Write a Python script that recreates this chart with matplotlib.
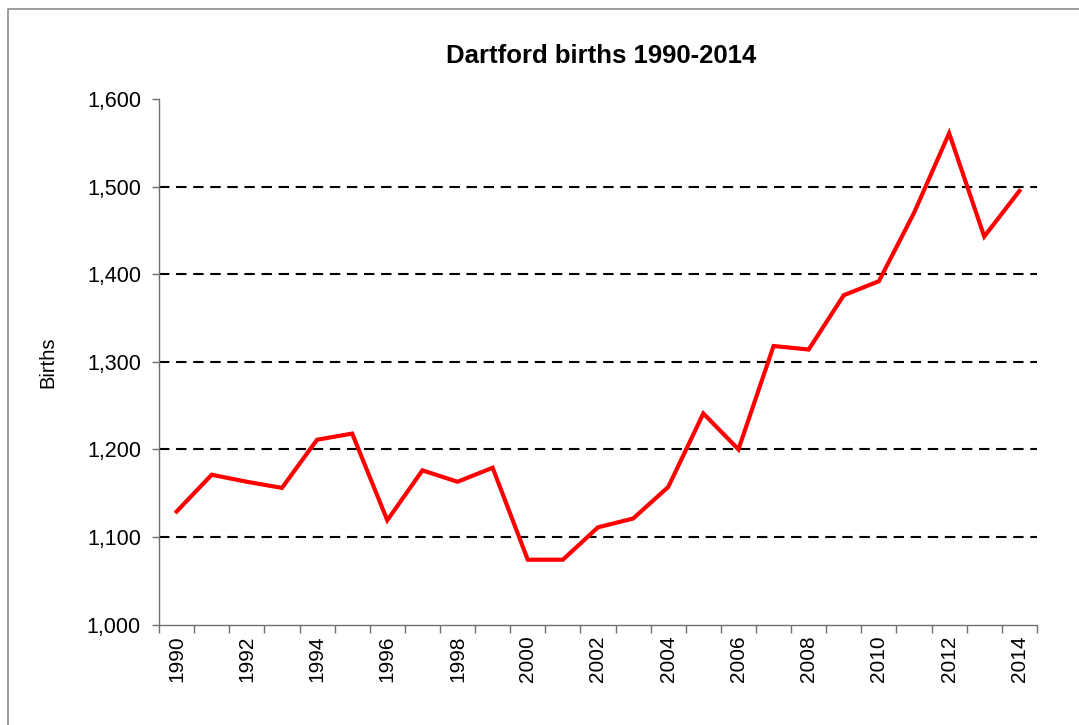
import matplotlib
matplotlib.use('Agg')
import matplotlib.pyplot as plt
from matplotlib.lines import Line2D

plt.rcParams['font.family'] = ['Liberation Sans', 'DejaVu Sans']

## data
years = list(range(1990, 2015))
births = [1129, 1171, 1163, 1156, 1211, 1218, 1119, 1176, 1163, 1179,
          1074, 1074, 1111, 1121, 1157, 1241, 1200, 1318, 1314, 1376,
          1392, 1470, 1561, 1443, 1495]
y_ticks = [1000, 1100, 1200, 1300, 1400, 1500, 1600]
title = 'Dartford births 1990-2014'
ylabel = 'Births'

fig = plt.figure(figsize=(10.79, 7.25), dpi=100)
ax = fig.add_axes([0.1474, 0.1386, 0.961 - 0.1474, 0.8634 - 0.1386])

# outer chart frame (only top and left edges fall inside the picture)
fx, fy = 7.7 / 1079, 1 - 9 / 725
fig.lines.append(Line2D([fx, fx, 1.0], [0.0, fy, fy], transform=fig.transFigure,
                        color='#8c8c8c', linewidth=1.2))

x = list(range(len(years)))
ax.plot(x, births, color='#ff0000', linewidth=3, solid_joinstyle='miter', zorder=3)

# dashed gridlines
for v in y_ticks[1:-1]:
    ax.axhline(v, color='black', linewidth=1.5, linestyle=(0, (5, 3.2)), zorder=1)

ax.set_xlim(-0.5, len(years) - 0.5)
ax.set_ylim(1000, 1600)
ax.set_yticks(y_ticks)
ax.set_yticklabels(['{:,}'.format(v) for v in y_ticks], fontsize=15.5)

# category boundaries as tick marks, labels on every other category
ax.set_xticks([i - 0.5 for i in range(len(years) + 1)])
ax.set_xticklabels([])
ax.set_xticks([i for i in x if years[i] % 2 == 0], minor=True)
ax.set_xticklabels([str(years[i]) for i in x if years[i] % 2 == 0], minor=True,
                   rotation=90, fontsize=15)
ax.tick_params(axis='x', which='major', length=6, width=1, color='#707070', direction='out')
ax.tick_params(axis='x', which='minor', length=0, pad=8)
ax.tick_params(axis='y', length=5, width=1, color='#707070', pad=8)

for s in ['top', 'right']:
    ax.spines[s].set_visible(False)
for s in ['left', 'bottom']:
    ax.spines[s].set_color('#707070')
    ax.spines[s].set_linewidth(1)

ax.set_ylabel(ylabel, fontsize=14.5, labelpad=21)
fig.text(601 / 1079, 1 - 56 / 725, title, ha='center', va='center',
         fontsize=18.5, fontweight='bold')

fig.savefig('out.png', dpi=100)
